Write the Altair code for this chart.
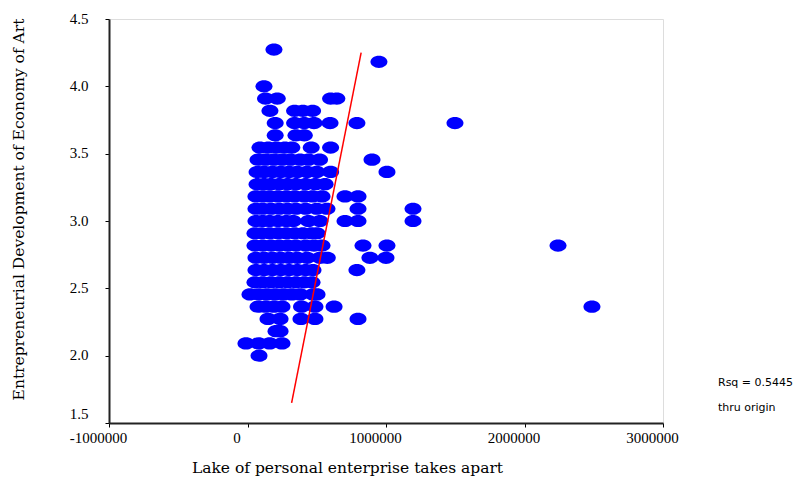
import altair as alt
import pandas as pd

# Y levels (scale scores, steps of 1/11) and the x values read at each level
level_y = [4.273, 4.182, 4.0, 3.909, 3.818, 3.727, 3.636, 3.545, 3.455, 3.364,
           3.273, 3.182, 3.091, 3.0, 2.909, 2.818, 2.727, 2.636, 2.545, 2.455,
           2.364, 2.273, 2.182, 2.091, 2.0]

x_4273 = [191000]
x_4182 = [949000]
x_4000 = [119000]
x_3909 = [130000, 215000, 600000, 645000]
x_3818 = [162000, 340000, 400000, 470000]
x_3727 = [200000, 340000, 410000, 480000, 596000, 790000, 1498000]
x_3636 = [200000, 350000, 410000]
x_3545 = [90000, 150000, 210000, 270000, 320000, 460000, 600000]
x_3455 = [76000, 130000, 190000, 250000, 310000, 380000, 440000, 520000, 899000]
x_3364 = [69000, 120000, 180000, 240000, 300000, 360000, 430000, 500000, 600000, 1007000]
x_3273 = [69000, 120000, 170000, 230000, 290000, 350000, 420000, 490000, 560000]
x_3182 = [61000, 110000, 160000, 220000, 280000, 340000, 410000, 470000, 538000, 704000, 798000]
x_3091 = [61000, 110000, 170000, 230000, 290000, 350000, 420000, 500000, 574000, 798000, 1195000]
x_3000 = [61000, 110000, 160000, 220000, 280000, 330000, 440000, 523000, 704000, 798000, 1195000]
x_2909 = [54000, 100000, 160000, 220000, 280000, 340000, 400000, 460000, 502000]
x_2818 = [54000, 110000, 170000, 230000, 290000, 350000, 420000, 480000, 538000, 834000, 1007000, 2242000]
x_2727 = [61000, 120000, 180000, 240000, 300000, 360000, 430000, 523000, 576000, 884000, 1000000]
x_2636 = [61000, 120000, 180000, 240000, 300000, 360000, 420000, 473000, 790000]
x_2545 = [54000, 110000, 170000, 230000, 290000, 350000, 410000, 466000]
x_2455 = [18000, 80000, 140000, 200000, 260000, 320000, 380000, 473000, 502000]
x_2364 = [76000, 130000, 190000, 249000, 390000, 487000, 625000, 2487000]
x_2273 = [148000, 235000, 386000, 487000, 798000]
x_2182 = [206000, 235000]
x_2091 = [-11000, 80000, 160000, 249000]
x_2000 = [83000]

level_x = [x_4273, x_4182, x_4000, x_3909, x_3818, x_3727, x_3636, x_3545, x_3455,
           x_3364, x_3273, x_3182, x_3091, x_3000, x_2909, x_2818, x_2727, x_2636,
           x_2545, x_2455, x_2364, x_2273, x_2182, x_2091, x_2000]

# Regression line through origin (endpoints as drawn)
fit_x = [318500, 820500]
fit_y = [1.65, 4.25]

x_ticks = [-1000000, 0, 1000000, 2000000, 3000000]
y_ticks = [1.5, 2.0, 2.5, 3.0, 3.5, 4.0, 4.5]

note_lines = ["Rsq = 0.5445", "thru origin"]

rows = []
for yv, xs in zip(level_y, level_x):
    for xv in xs:
        rows.append({"lack": xv, "dev": yv})
pts = pd.DataFrame(rows)
fit = pd.DataFrame({"lack": fit_x, "dev": fit_y})

serif = "Liberation Serif"
title_font = "DejaVu Serif"

xscale = alt.Scale(domain=[-1000000, 3000000], nice=False, zero=False)
yscale = alt.Scale(domain=[1.5, 4.5], nice=False, zero=False)

xaxis = alt.Axis(
    title="Lake of personal enterprise takes apart",
    values=x_ticks, grid=False,
    labelExpr="datum.value < 0 ? '-' + format(-datum.value, 'd') : "
              "(datum.value == 0 ? '\u2007\u20070' : format(datum.value, 'd'))",
    labelFont=serif, labelFontSize=15, labelColor="#000",
    labelPadding=3, tickSize=4, tickColor="#000", labelOffset=-11,
    labelFlush=False, labelOverlap=False,
    titleFont=title_font, titleFontSize=15.5, titleFontWeight="normal", titleColor="#000",
    titleX=238, titleY=44, titleAlign="center", titleBaseline="middle",
    domainColor="#222", domainWidth=2,
)
yaxis = alt.Axis(
    title="Entrepreneurial Development of Economy of Art",
    values=y_ticks, format=".1f", grid=False,
    labelFont=serif, labelFontSize=15, labelColor="#000",
    labelPadding=17, tickSize=4, tickColor="#000",
    labelOffset={"condition": {"test": "datum.value == 1.5", "value": -10}, "value": -1},
    labelFlush=False, labelOverlap=False,
    titleFont=title_font, titleFontSize=15.5, titleFontWeight="normal", titleColor="#000",
    titleX=-91, titleY=190, titleAngle=-90, titleAlign="center", titleBaseline="middle",
    domainColor="#222", domainWidth=2,
)

ellipse = "M -1 0 A 1 0.72 0 1 0 1 0 A 1 0.72 0 1 0 -1 0 Z"

points = alt.Chart(pts).mark_point(
    filled=True, shape=ellipse, size=289, color="#0000FF", opacity=1
).encode(
    x=alt.X("lack:Q", scale=xscale, axis=xaxis),
    y=alt.Y("dev:Q", scale=yscale, axis=yaxis),
)

line = alt.Chart(fit).mark_line(color="#FF0000", strokeWidth=1.5).encode(
    x=alt.X("lack:Q", scale=xscale),
    y=alt.Y("dev:Q", scale=yscale),
)

note1 = alt.Chart(pd.DataFrame({"t": [note_lines[0]]})).mark_text(
    align="left", baseline="middle", font="DejaVu Sans", fontSize=11, color="#000"
).encode(x=alt.value(609), y=alt.value(364), text="t:N")

note2 = alt.Chart(pd.DataFrame({"t": [note_lines[1]]})).mark_text(
    align="left", baseline="middle", font="DejaVu Sans", fontSize=11, color="#000"
).encode(x=alt.value(609), y=alt.value(389), text="t:N")

chart = alt.layer(points, line, note1, note2).properties(
    width=554, height=404,
    autosize=alt.AutoSizeParams(type="none"),
    padding={"left": 101, "top": 11, "right": 137, "bottom": 54},
).configure_view(stroke="#222", strokeWidth=2).configure(background="white")

chart.save("out.html", embed_options={"renderer": "svg", "actions": False})
